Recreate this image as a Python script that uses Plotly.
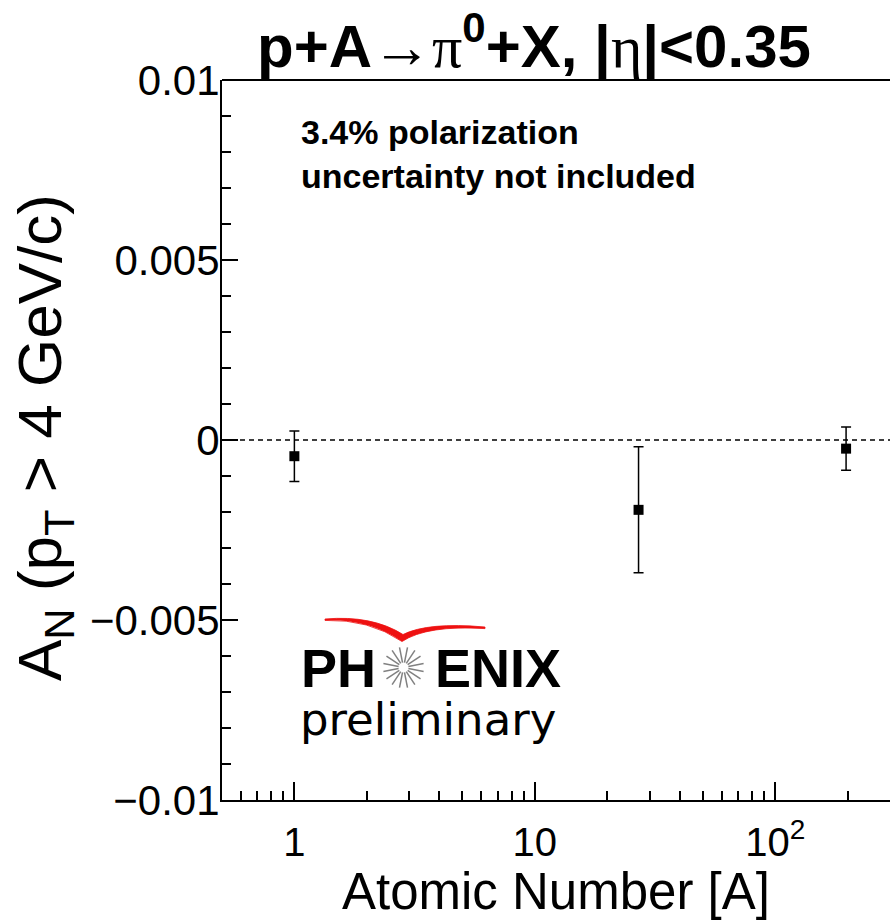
import numpy as np
import plotly.graph_objects as go

# Single-spin asymmetry A_N of pi0 at midrapidity versus target mass number
nucleus = ["p", "Al", "Au"]
mass_number = [1, 27, 197]
a_n = [-0.00045, -0.00194, -0.00024]
a_n_err = [0.00070, 0.00175, 0.00060]

# Axis ticks
y_tick_vals = [-0.01, -0.005, 0.0, 0.005, 0.01]
y_tick_text = ["\u22120.01", "\u22120.005", "0", "0.005", "0.01"]
x_tick_vals = [1, 10, 100]
x_tick_text = ["1", "10", "10<sup>2</sup>"]
x_minor_vals = [0.6, 0.7, 0.8, 0.9, 2, 3, 4, 5, 6, 7, 8, 9,
                20, 30, 40, 50, 60, 70, 80, 90, 200, 300]

W, H = 890, 922
L, R, T, B = 222, 0, 80, 122
FONT = "Liberation Sans"


def px(x):
    """pixel column -> paper x"""
    return (x - L) / (W - L - R)


def py(y):
    """pixel row -> paper y"""
    return (H - B - y) / (H - T - B)


fig = go.Figure()

fig.add_trace(go.Scatter(
    x=mass_number, y=a_n, text=nucleus, mode="markers",
    marker=dict(symbol="square", size=10, color="black"),
    error_y=dict(type="data", array=a_n_err, visible=True,
                 color="black", thickness=1.5, width=5),
    showlegend=False,
))

shapes = []
# frame top edge
shapes.append(dict(type="line", xref="paper", yref="paper", x0=0, x1=1, y0=1, y1=1,
                   line=dict(color="black", width=2)))
# zero reference line
shapes.append(dict(type="line", xref="paper", yref="y", x0=0, x1=1, y0=0, y1=0,
                   line=dict(color="black", width=1.5, dash="5px,4px"), layer="below"))

# PHENIX logo: red swoosh
sw = [
    (325, 619.0), (372, 615), (403, 634.5), (428, 622), (485, 627.0),
    (485, 628.6), (427, 625), (402, 641.5), (369, 619), (325, 620.4),
]
sp = [(px(a), py(b)) for a, b in sw]
path = (f"M {sp[0][0]},{sp[0][1]} Q {sp[1][0]},{sp[1][1]} {sp[2][0]},{sp[2][1]} "
        f"Q {sp[3][0]},{sp[3][1]} {sp[4][0]},{sp[4][1]} L {sp[5][0]},{sp[5][1]} "
        f"Q {sp[6][0]},{sp[6][1]} {sp[7][0]},{sp[7][1]} "
        f"Q {sp[8][0]},{sp[8][1]} {sp[9][0]},{sp[9][1]} Z")
shapes.append(dict(type="path", xref="paper", yref="paper", path=path,
                   fillcolor="#ee1111", line=dict(color="#ee1111", width=0.8)))

# PHENIX logo: starburst standing in for the "O"
cx, cy = 403.5, 667.5
for k in range(16):
    ang = np.pi * k / 8 + np.pi / 16
    r0, r1 = 5.0, 20.5
    shapes.append(dict(type="line", xref="paper", yref="paper",
                       x0=px(cx + r0 * np.cos(ang)), y0=py(cy + r0 * np.sin(ang)),
                       x1=px(cx + r1 * np.cos(ang)), y1=py(cy + r1 * np.sin(ang)),
                       line=dict(color="#808080", width=1.5)))

annotations = []
# title
annotations.append(dict(
    xref="paper", yref="paper", x=px(534), y=py(43), xanchor="center", yanchor="middle",
    showarrow=False,
    text=("<b>p+A</b>\u2192<span style='font-family:Liberation Serif'>\u03c0</span>"
          "<b><sup>0</sup>+X, |</b><span style='font-family:Liberation Serif'>\u03b7</span>"
          "<b>|&lt;0.35</b>"),
    font=dict(family=FONT, size=60, color="black"),
))
# polarization note
annotations.append(dict(
    xref="paper", yref="paper", x=px(299), y=py(111), xanchor="left", yanchor="top",
    align="left", showarrow=False,
    text="<b>3.4% polarization<br>uncertainty not included</b>",
    font=dict(family=FONT, size=34, color="black"),
))
# axis titles
annotations.append(dict(
    xref="paper", yref="paper", x=px(556), y=py(891), xanchor="center", yanchor="middle",
    showarrow=False, text="Atomic Number [A]", borderpad=0,
    font=dict(family=FONT, size=51, color="black"),
))
annotations.append(dict(
    xref="paper", yref="paper", x=px(44), y=py(438), xanchor="center", yanchor="middle",
    showarrow=False, textangle=-90,
    text="A<sub>N</sub> (p<sub>T</sub> &gt; 4 GeV/c)",
    font=dict(family=FONT, size=62, color="black"),
))
# PHENIX logo lettering
annotations.append(dict(
    xref="paper", yref="paper", x=px(299), y=py(668), xanchor="left", yanchor="middle",
    showarrow=False, text="<b>PH</b>",
    font=dict(family=FONT, size=54, color="black"),
))
annotations.append(dict(
    xref="paper", yref="paper", x=px(433), y=py(668), xanchor="left", yanchor="middle",
    showarrow=False, text="<b>ENIX</b>",
    font=dict(family=FONT, size=54, color="black"),
))
annotations.append(dict(
    xref="paper", yref="paper", x=px(428), y=py(719), xanchor="center", yanchor="middle",
    showarrow=False, text="preliminary",
    font=dict(family="DejaVu Sans", size=45, color="black"),
))

fig.update_layout(
    width=W, height=H,
    margin=dict(l=L, r=R, t=T, b=B, pad=0),
    paper_bgcolor="white", plot_bgcolor="white",
    font=dict(family=FONT, color="black"),
    shapes=shapes, annotations=annotations,
    xaxis=dict(
        type="log", range=[np.log10(0.5), np.log10(300)],
        showgrid=False, zeroline=False,
        showline=True, linecolor="black", linewidth=2,
        ticks="inside", ticklen=18, tickwidth=1.5, tickcolor="black",
        tickmode="array", tickvals=x_tick_vals, ticktext=x_tick_text,
        tickfont=dict(family=FONT, size=40, color="black"),
        ticklabelstandoff=6,
        minor=dict(ticks="inside", ticklen=9, tickwidth=1.5, tickcolor="black",
                   tickmode="array", tickvals=x_minor_vals, showgrid=False),
    ),
    yaxis=dict(
        range=[-0.01, 0.01],
        showgrid=False, zeroline=False,
        showline=True, linecolor="black", linewidth=2,
        ticks="inside", ticklen=16, tickwidth=1.5, tickcolor="black",
        tickmode="array", tickvals=y_tick_vals, ticktext=y_tick_text,
        tickfont=dict(family=FONT, size=42, color="black"),
        ticklabelstandoff=-8,
        minor=dict(ticks="inside", ticklen=9, tickwidth=1.5, tickcolor="black",
                   dtick=0.001, showgrid=False),
    ),
)

fig.write_html("out.html")
